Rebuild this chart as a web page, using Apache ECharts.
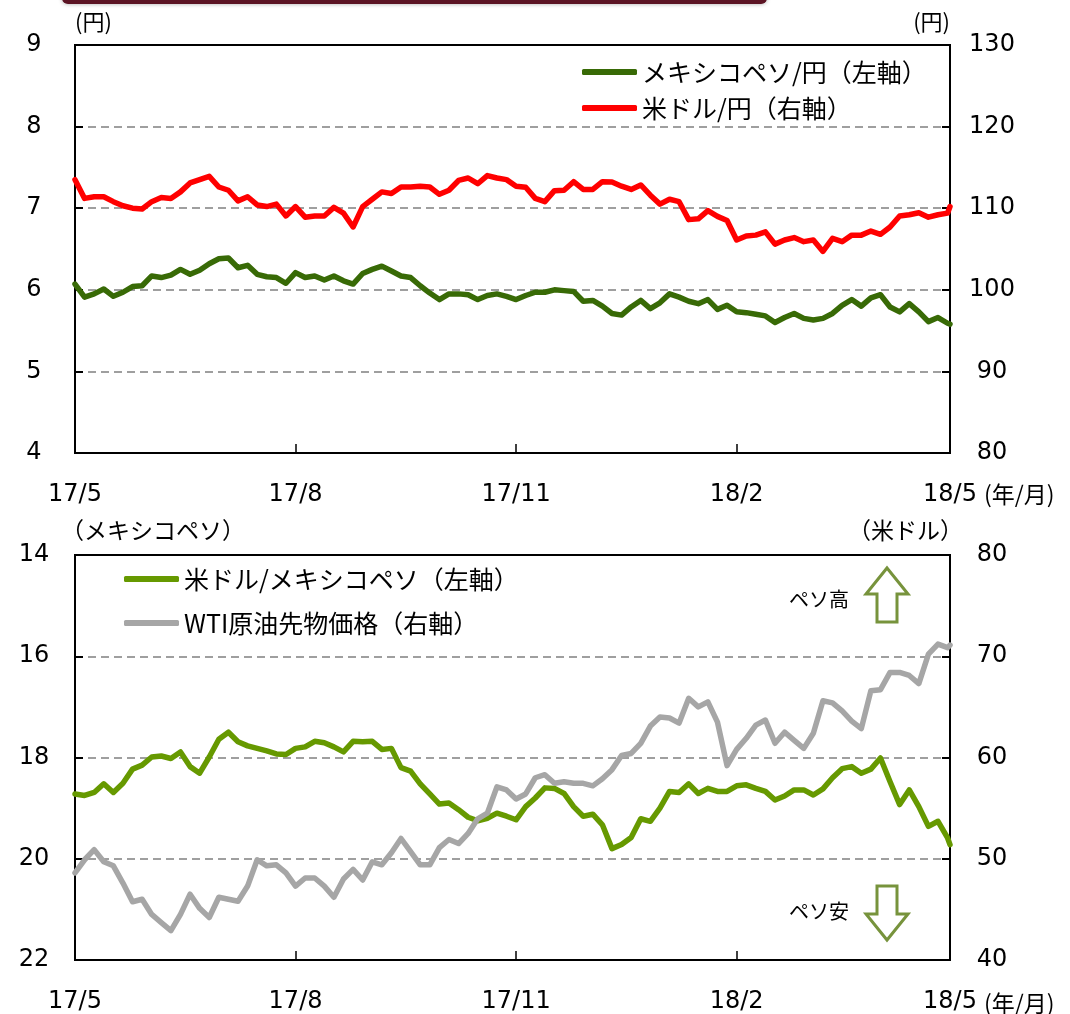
<!DOCTYPE html>
<html><head><meta charset="utf-8">
<script src="https://cdn.jsdelivr.net/npm/echarts@6/dist/echarts.min.js"></script>
<style>html,body{margin:0;padding:0;background:#fff}#c{width:1070px;height:1014px}</style>
</head><body><div id="c"></div>
<script>
const dates = [
'2017-05-01','2017-05-05','2017-05-09','2017-05-13','2017-05-17','2017-05-21','2017-05-25','2017-05-29',
'2017-06-02','2017-06-06','2017-06-10','2017-06-14','2017-06-18','2017-06-22','2017-06-26','2017-06-30',
'2017-07-04','2017-07-08','2017-07-12','2017-07-16','2017-07-20','2017-07-24','2017-07-28',
'2017-08-01','2017-08-05','2017-08-09','2017-08-13','2017-08-17','2017-08-21','2017-08-25','2017-08-29',
'2017-09-02','2017-09-06','2017-09-10','2017-09-14','2017-09-18','2017-09-22','2017-09-26','2017-09-30',
'2017-10-04','2017-10-08','2017-10-12','2017-10-16','2017-10-20','2017-10-24','2017-10-28',
'2017-11-01','2017-11-05','2017-11-09','2017-11-13','2017-11-17','2017-11-21','2017-11-25','2017-11-29',
'2017-12-03','2017-12-07','2017-12-11','2017-12-15','2017-12-19','2017-12-23','2017-12-27','2017-12-31',
'2018-01-04','2018-01-08','2018-01-12','2018-01-16','2018-01-20','2018-01-24','2018-01-28',
'2018-02-01','2018-02-05','2018-02-09','2018-02-13','2018-02-17','2018-02-21','2018-02-25',
'2018-03-01','2018-03-05','2018-03-09','2018-03-13','2018-03-17','2018-03-21','2018-03-25','2018-03-29',
'2018-04-02','2018-04-06','2018-04-10','2018-04-14','2018-04-18','2018-04-22','2018-04-26','2018-04-30',
'2018-05-01'];

// メキシコペソ/円 (left axis, top)
const mxnJpy = [
6.07,5.91,5.95,6.01,5.92,5.97,6.04,6.05,
6.17,6.15,6.18,6.25,6.19,6.24,6.32,6.38,
6.39,6.27,6.30,6.19,6.16,6.15,6.08,
6.21,6.15,6.17,6.12,6.17,6.11,6.07,6.20,
6.25,6.29,6.23,6.17,6.15,6.05,5.96,5.88,
5.95,5.95,5.94,5.88,5.93,5.95,5.92,
5.88,5.93,5.97,5.97,6.00,5.99,5.98,5.86,
5.87,5.80,5.71,5.69,5.79,5.87,5.77,5.84,
5.95,5.91,5.86,5.83,5.88,5.76,5.81,
5.73,5.72,5.70,5.68,5.60,5.66,5.71,
5.65,5.63,5.65,5.71,5.81,5.88,5.80,5.90,
5.94,5.79,5.73,5.83,5.73,5.61,5.66,5.59,
5.58];

// 米ドル/円 (right axis, top)
const usdJpy = [
113.5,111.2,111.4,111.4,110.8,110.3,110.0,109.9,
110.8,111.3,111.2,112.0,113.1,113.5,113.9,112.6,
112.2,110.9,111.4,110.4,110.2,110.5,109.05,
110.2,108.9,109.05,109.05,110.1,109.4,107.7,110.2,
111.1,112.0,111.8,112.6,112.6,112.7,112.6,111.7,
112.2,113.4,113.7,113.0,114.0,113.7,113.5,
112.7,112.56,111.2,110.8,112.15,112.2,113.25,112.3,
112.3,113.25,113.2,112.7,112.3,112.85,111.6,110.5,
111.1,110.8,108.6,108.7,109.7,109.0,108.5,
106.1,106.6,106.7,107.1,105.6,106.1,106.4,
105.9,106.1,104.7,106.3,105.9,106.7,106.7,107.2,
106.8,107.7,109.05,109.2,109.45,108.9,109.2,109.4,
110.2];

// 米ドル/メキシコペソ (left axis, bottom, inverted)
const usdMxn = [
18.72,18.75,18.69,18.52,18.69,18.51,18.23,18.15,
17.99,17.97,18.02,17.89,18.18,18.31,17.99,17.64,
17.50,17.69,17.77,17.82,17.87,17.93,17.94,
17.82,17.79,17.68,17.71,17.79,17.89,17.68,17.69,
17.68,17.84,17.82,18.20,18.27,18.52,18.72,18.92,
18.90,19.03,19.18,19.25,19.20,19.10,19.16,
19.23,18.97,18.80,18.60,18.61,18.71,18.97,19.16,
19.12,19.33,19.80,19.72,19.58,19.21,19.26,19.00,
18.67,18.69,18.52,18.71,18.61,18.67,18.67,
18.56,18.54,18.61,18.67,18.84,18.76,18.64,
18.64,18.74,18.62,18.40,18.22,18.18,18.31,18.23,
18.01,18.48,18.93,18.64,18.97,19.36,19.26,19.59,
19.72];

// WTI原油先物価格 (right axis, bottom)
const wti = [
48.6,49.9,50.9,49.7,49.3,47.6,45.75,46.0,
44.5,43.7,42.9,44.5,46.5,45.1,44.2,46.2,
46.0,45.8,47.3,49.9,49.3,49.4,48.6,
47.3,48.1,48.1,47.3,46.2,48.0,48.95,47.9,
49.7,49.4,50.6,52.0,50.7,49.4,49.4,51.1,
51.9,51.5,52.5,53.95,54.5,57.1,56.8,
55.9,56.4,58.0,58.3,57.45,57.6,57.45,57.45,
57.2,57.9,58.8,60.2,60.4,61.4,63.1,64.0,
63.9,63.4,65.85,65.0,65.5,63.5,59.2,
60.8,61.9,63.2,63.7,61.4,62.5,61.7,
60.9,62.4,65.6,65.4,64.6,63.6,62.85,66.6,
66.7,68.4,68.4,68.1,67.3,70.2,71.2,70.85,
71.1];

const xTickDates = ['2017-05-01','2017-08-01','2017-11-01','2018-02-01','2018-05-01'];
const xTickLabels = ['17/5','17/8','17/11','18/2','18/5'];
const seriesNames = ['メキシコペソ/円（左軸）','米ドル/円（右軸）','米ドル/メキシコペソ（左軸）','WTI原油先物価格（右軸）'];

const toTime = s => { const p = s.split('-').map(Number); return Date.UTC(p[0], p[1] - 1, p[2]); };
const tickTimes = xTickDates.map(toTime);
const pairs = vals => dates.map((d, i) => [toTime(d), vals[i]]);

const NUM_FONT = 'DejaVu Sans';
const JP_FONT = 'Noto Sans CJK JP';
const gridLine = {show: true, showMinLine: false, showMaxLine: false, lineStyle: {color: '#808080', width: 1.5, type: [8, 5]}};
const axisBlack = {show: true, lineStyle: {color: '#000', width: 2}};
const yTick = {show: true, inside: true, length: 8, lineStyle: {color: '#000', width: 2}};

function labelFor(v) {
  let k = 0, best = Infinity;
  tickTimes.forEach((t, i) => { const d = Math.abs(t - v); if (d < best) { best = d; k = i; } });
  return xTickLabels[k];
}
function xAxis(gi) {
  return {
    type: 'value', gridIndex: gi, min: tickTimes[0], max: tickTimes[tickTimes.length - 1],
    axisLine: axisBlack,
    axisTick: {show: true, inside: true, length: 9, customValues: tickTimes, lineStyle: {color: '#000', width: 1.5}},
    axisLabel: {
      customValues: tickTimes, margin: 30, color: '#000', fontSize: 24, fontFamily: NUM_FONT,
      showMinLabel: true, showMaxLabel: true, hideOverlap: false, formatter: labelFor
    },
    splitLine: {show: false}
  };
}
function yAxis(gi, pos, min, max, interval, opts) {
  return Object.assign({
    type: 'value', gridIndex: gi, position: pos, min, max, interval,
    axisLine: axisBlack, axisTick: yTick,
    axisLabel: {color: '#000', fontSize: 24, fontFamily: NUM_FONT, align: 'center', margin: pos === 'left' ? 41 : 42},
    splitLine: {show: false}
  }, opts);
}

const chart = echarts.init(document.getElementById('c'), null, {renderer: 'canvas'});
chart.setOption({
  animation: false,
  backgroundColor: '#fff',
  grid: [
    {left: 75, top: 45, width: 875, height: 408, show: true, borderColor: '#000', borderWidth: 2, backgroundColor: 'transparent'},
    {left: 75, top: 555, width: 875, height: 408, show: true, borderColor: '#000', borderWidth: 2, backgroundColor: 'transparent'}
  ],
  xAxis: [xAxis(0), xAxis(1)],
  yAxis: [
    yAxis(0, 'left', 4, 9, 1, {splitLine: gridLine, name: '(円)', nameLocation: 'end', nameGap: 12,
      nameTextStyle: {align: 'left', color: '#000', fontSize: 22, fontFamily: JP_FONT}}),
    yAxis(0, 'right', 80, 130, 10, {name: '(円)', nameLocation: 'end', nameGap: 12,
      nameTextStyle: {align: 'right', color: '#000', fontSize: 22, fontFamily: JP_FONT}}),
    yAxis(1, 'left', 14, 22, 2, {inverse: true, splitLine: gridLine, name: '（メキシコペソ）', nameLocation: 'start', nameGap: 13,
      nameTextStyle: {align: 'left', color: '#000', fontSize: 23, fontFamily: JP_FONT, padding: [0, 0, 0, -14]}}),
    yAxis(1, 'right', 40, 80, 10, {name: '（米ドル）', nameLocation: 'end', nameGap: 13,
      nameTextStyle: {align: 'right', color: '#000', fontSize: 23, fontFamily: JP_FONT, padding: [0, -13, 0, 0]}})
  ],
  legend: [
    {data: [seriesNames[0], seriesNames[1]], orient: 'vertical', left: 582, top: 58, padding: 0, itemWidth: 55, itemHeight: 6,
      icon: 'roundRect', itemGap: 8, selectedMode: false,
      textStyle: {color: '#000', fontSize: 25, lineHeight: 28, fontFamily: JP_FONT}},
    {data: [seriesNames[2], seriesNames[3]], orient: 'vertical', left: 124, top: 565, padding: 0, itemWidth: 55, itemHeight: 6,
      icon: 'roundRect', itemGap: 16, selectedMode: false,
      textStyle: {color: '#000', fontSize: 25, lineHeight: 28, fontFamily: JP_FONT}}
  ],
  series: [
    {name: seriesNames[0], type: 'line', xAxisIndex: 0, yAxisIndex: 0, data: pairs(mxnJpy), showSymbol: false,
      color: '#386A06', lineStyle: {width: 5.5, color: '#386A06', join: 'round', cap: 'round'}},
    {name: seriesNames[1], type: 'line', xAxisIndex: 0, yAxisIndex: 1, data: pairs(usdJpy), showSymbol: false,
      color: '#FF0000', lineStyle: {width: 5.5, color: '#FF0000', join: 'round', cap: 'round'}},
    {name: seriesNames[2], type: 'line', xAxisIndex: 1, yAxisIndex: 2, data: pairs(usdMxn), showSymbol: false,
      color: '#669900', lineStyle: {width: 5.5, color: '#669900', join: 'round', cap: 'round'}},
    {name: seriesNames[3], type: 'line', xAxisIndex: 1, yAxisIndex: 3, data: pairs(wti), showSymbol: false,
      color: '#A6A6A6', lineStyle: {width: 5.5, color: '#A6A6A6', join: 'round', cap: 'round'}}
  ],
  graphic: [
    {type: 'rect', shape: {x: 62, y: -8, width: 705, height: 12, r: 6}, style: {fill: '#5c1424', shadowBlur: 4, shadowColor: 'rgba(0,0,0,0.35)'}},
    {type: 'text', x: 984, y: 494, style: {text: '(年/月)', fontSize: 23, fontFamily: JP_FONT, fill: '#000', verticalAlign: 'middle'}},
    {type: 'text', x: 984, y: 1003, style: {text: '(年/月)', fontSize: 23, fontFamily: JP_FONT, fill: '#000', verticalAlign: 'middle'}},
    {type: 'text', x: 849, y: 599, style: {text: 'ペソ高', fontSize: 20, fontFamily: JP_FONT, fill: '#000', align: 'right', verticalAlign: 'middle'}},
    {type: 'text', x: 849, y: 911, style: {text: 'ペソ安', fontSize: 20, fontFamily: JP_FONT, fill: '#000', align: 'right', verticalAlign: 'middle'}},
    {type: 'polygon', shape: {points: [[887,568],[908,594],[897,594],[897,622],[877,622],[877,594],[866,594]]},
      style: {fill: '#fff', stroke: '#77933C', lineWidth: 3, lineJoin: 'miter'}},
    {type: 'polygon', shape: {points: [[877,886],[897,886],[897,914],[908,914],[887,940],[866,914],[877,914]]},
      style: {fill: '#fff', stroke: '#77933C', lineWidth: 3, lineJoin: 'miter'}}
  ]
});
</script></body></html>
